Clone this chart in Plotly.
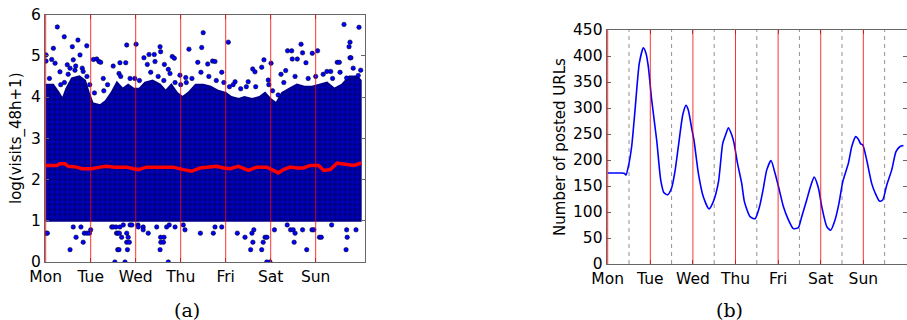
import plotly.graph_objects as go

# ---------------- data ----------------
day_labels = ["Mon", "Tue", "Wed", "Thu", "Fri", "Sat", "Sun"]
day_hours = [0, 24, 48, 72, 96, 120, 144]
half_day_hours = [12, 36, 60, 84, 108, 132, 156]

# (a) upper envelope of the dense cloud of points (lower edge is 1.0)
env_hours = [0, 4, 7, 9, 11, 14, 18, 21, 23, 25, 29, 32, 35, 38, 41, 44, 47, 50, 53, 57,
             61, 64, 67, 70, 73, 76, 80, 84, 88, 92, 96, 99, 103, 106, 110, 114, 117, 120,
             123, 126, 130, 134, 138, 142, 146, 150, 154, 158, 162, 166, 168]
env_top = [4.3, 4.3, 4.1, 3.95, 4.2, 4.45, 4.5, 4.4, 4.1, 3.85, 3.8, 3.9, 4.1, 4.35, 4.2, 4.3,
           4.2, 4.2, 4.35, 4.4, 4.3, 4.15, 4.3, 4.1, 4.0, 4.1, 4.3, 4.3, 4.25, 4.15, 4.1, 4.0,
           3.95, 4.0, 3.95, 4.0, 4.1, 3.95, 3.85, 4.1, 4.2, 4.3, 4.25, 4.25, 4.3, 4.35, 4.2,
           4.3, 4.5, 4.5, 4.4]
env_bottom = 1.0

# (a) isolated points above the cloud
hi_hours = [0.2, 0.2, 3.2, 4.1, 5.0, 6.2, 7.6, 9.9, 11.5, 12, 13, 14.2, 14.7, 15.6, 16, 17.2,
            18.3, 19.5, 20, 21.9, 22, 25.4, 27.2, 28.4, 29.3, 30.7, 36, 39.1, 39.6, 42.7,
            43.2, 48.2, 52.4, 54.2, 55.1, 57.9, 58.3, 61, 61.3, 63.3, 65.4, 66.3, 67.5, 68.6,
            71.6, 74.7, 76.4, 81.1, 82.8, 83.2, 84, 86.4, 89, 90.3, 93.9, 97.4, 101, 108,
            110.4, 111.6, 115.2, 116.4, 118.7, 120.2, 125.5, 128, 129, 131.2, 131.5, 134.2,
            136.2, 137, 138.8, 142.2, 145, 150, 152, 155.5, 156.6, 159.1, 160.5, 161.8,
            162.3, 162.3, 162.8, 166.7, 167.1,
            2, 8, 10, 23.5, 26, 31, 33, 40, 45, 47.5, 50, 56, 60, 63, 69, 72, 75, 78, 87, 91,
            95, 98, 100, 104, 107, 112, 119, 121, 124, 127, 133, 140, 144, 148, 153, 157,
            164, 168]
hi_vals = [5.02, 4.87, 4.91, 5.18, 4.82, 5.70, 4.61, 5.46, 4.78, 4.55, 4.70, 5.22, 4.90, 4.65,
           4.75, 5.38, 5.02, 4.70, 4.62, 5.24, 4.50, 4.91, 4.92, 4.86, 4.84, 4.45, 4.75, 4.57,
           4.83, 4.83, 5.26, 5.28, 4.95, 4.79, 5.03, 5.03, 4.86, 5.22, 5.10, 4.79, 4.67, 4.57,
           4.98, 4.94, 4.53, 4.47, 5.16, 4.84, 4.60, 5.20, 5.56, 4.80, 4.87, 4.86, 4.60, 5.33,
           4.37, 4.37, 4.68, 4.61, 4.72, 4.90, 4.41, 4.82, 4.55, 4.64, 5.12, 5.12, 4.92, 4.92,
           5.28, 5.07, 4.83, 5.06, 5.12, 4.62, 4.62, 4.84, 4.84, 5.76, 4.46, 5.22, 5.33, 4.95,
           4.95, 4.52, 5.69,
           4.45, 4.3, 4.35, 4.3, 4.1, 4.15, 4.3, 4.5, 4.45, 4.45, 4.4, 4.6, 4.5, 4.4, 4.35,
           4.3, 4.35, 4.45, 4.5, 4.4, 4.35, 4.25, 4.3, 4.2, 4.25, 4.25, 4.3, 4.15, 4.05, 4.35,
           4.5, 4.45, 4.5, 4.55, 4.45, 4.6, 4.7, 4.65]

# (a) isolated points below the cloud
lo_hours = [0.2, 0.9, 13, 14.7, 16.2, 18.8, 20, 20.6, 22, 23.3, 24, 35.2, 36, 36.9, 37.5, 37.8,
            38.4, 38.4, 39.1, 39.3, 39.6, 40.5, 41.4, 42.3, 43.2, 43.2, 43.6, 44, 44.6, 45, 46,
            49.2, 49.4, 52, 52, 54.7, 59.2, 61, 61.3, 61.4, 62.8, 63.1, 64.5, 65.4, 65.9, 69,
            73.4, 74.3, 82.5, 89.4, 90.3, 93.9, 102.2, 106.3, 109.3, 110, 110.5, 111, 115.2,
            116, 117, 117.9, 118, 119.6, 122, 128.8, 130.6, 132, 132.5, 133, 137, 139.2, 142,
            143, 146, 147, 152.5, 160.2, 160.5, 160.8, 165.5]
lo_vals = [0.70, 0.70, 0.30, 0.85, 0.60, 0.85, 0.48, 0.70, 0.70, 0.70, 0.78, 0.85, 0.85, 0.0,
           0.85, 0.70, 0.70, 0.30, 0.30, 0.70, 0.85, 0.60, 0.90, 0.0, 0.70, 0.48, 0.30, 0.60,
           0.48, 0.90, 0.90, 0.90, 0.85, 0.85, 0.78, 0.70, 0.85, 0.30, 0.60, 0.48, 0.48, 0.60,
           0.85, 0.0, 0.90, 0.85, 0.90, 0.78, 0.70, 0.70, 0.85, 0.85, 0.70, 0.60, 0.30, 0.70,
           0.48, 0.78, 0.30, 0.48, 0.60, 0.0, 0.60, 0.0, 0.78, 0.90, 0.78, 0.78, 0.48, 0.70,
           0.78, 0.30, 0.78, 0.78, 0.60, 0.60, 0.90, 0.30, 0.78, 0.60, 0.78]

# (a) running mean (red line)
mean_hours = [0, 5.9, 7.6, 10.3, 12.1, 16.5, 19.2, 24.5, 29, 32.5, 37, 43.2, 46.7, 49.4, 53.8,
              61, 68, 73.4, 77.9, 82.3, 85.9, 91.2, 94.8, 98.4, 102.8, 108.2, 112.6, 117.9,
              120.6, 124.1, 126.8, 130.4, 133.9, 137.5, 141.1, 145.6, 148.3, 151.8, 155.4,
              160.8, 164.3, 168.3]
mean_vals = [2.34, 2.34, 2.38, 2.38, 2.32, 2.30, 2.26, 2.26, 2.30, 2.32, 2.30, 2.30, 2.26,
             2.24, 2.30, 2.30, 2.30, 2.24, 2.20, 2.28, 2.30, 2.32, 2.28, 2.26, 2.32, 2.22,
             2.30, 2.30, 2.24, 2.16, 2.24, 2.30, 2.28, 2.28, 2.34, 2.34, 2.22, 2.24, 2.40,
             2.36, 2.34, 2.40]

# (b) number of posted URLs
url_hours = [0, 4, 8, 9.5, 10.3, 11.6, 13.5, 15.4, 17.8, 20.1, 21.6, 22.9, 24.8, 27.6, 29.9,
             31.7, 33.8, 36, 37.9, 39.8, 42.3, 44.1, 45.4, 47.3, 48.6, 51.1, 53.9, 57.1, 59.5,
             62.4, 64.8, 66.7, 68.0, 69.9, 71.2, 73.1, 75.5, 77, 80.2, 83, 85.5, 87.7, 89.6,
             92, 94.3, 96.2, 99, 101.8, 104.6, 107.4, 109.3, 112.1, 114, 116.3, 118.7, 120.6,
             123.4, 125.6, 128.1, 130.3, 132.4, 135.6, 137.5, 139.7, 141.2, 142.5, 143.7,
             145.9, 148.7, 150.6, 153.1, 154.9, 157.2, 160, 162.4, 164.7, 166.6]
url_counts = [175, 175, 175, 174, 171, 187, 226, 296, 386, 416, 405, 379, 315, 238, 161, 137,
              133, 146, 178, 226, 287, 305, 296, 261, 238, 174, 129, 106, 120, 158, 232, 251,
              262, 248, 232, 194, 155, 120, 91, 87, 110, 146, 181, 199, 174, 149, 110, 85, 68,
              70, 91, 123, 146, 167, 146, 110, 72, 65, 85, 117, 158, 194, 226, 245, 240, 231,
              229, 200, 155, 137, 121, 123, 152, 181, 216, 226, 228]

a_yticks = [0, 1, 2, 3, 4, 5, 6]
b_yticks = [0, 50, 100, 150, 200, 250, 300, 350, 400, 450]

# ---------------- figure ----------------
W, H = 907, 320
FONT = "DejaVu Sans"
fig = go.Figure()

# dense cloud as a textured band
fig.add_trace(go.Scatter(
    x=env_hours + env_hours[::-1],
    y=env_top + [env_bottom] * len(env_hours),
    fill="toself", mode="lines",
    line=dict(color="#00008c", width=2),
    fillcolor="#0000c8",
    fillpattern=dict(shape=".", bgcolor="#000070", fgcolor="#0000ff", size=5, solidity=0.7),
    xaxis="x", yaxis="y", hoverinfo="skip", showlegend=False))

marker = dict(size=4.5, color="#0000ff", line=dict(color="#000000", width=0.5))
fig.add_trace(go.Scatter(x=hi_hours, y=hi_vals, mode="markers", marker=marker,
                         xaxis="x", yaxis="y", showlegend=False))
fig.add_trace(go.Scatter(x=lo_hours, y=lo_vals, mode="markers", marker=marker,
                         xaxis="x", yaxis="y", showlegend=False))
fig.add_trace(go.Scatter(x=mean_hours, y=mean_vals, mode="lines",
                         line=dict(color="#ff0000", width=3.5),
                         xaxis="x", yaxis="y", showlegend=False))

fig.add_trace(go.Scatter(x=url_hours, y=url_counts, mode="lines",
                         line=dict(color="#0000ff", width=1.6, shape="spline", smoothing=0.6),
                         xaxis="x2", yaxis="y2", showlegend=False))

# day separators
for h in day_hours:
    fig.add_shape(type="line", xref="x", yref="y domain", x0=h, x1=h, y0=0, y1=1,
                  line=dict(color="rgba(255,0,0,0.8)", width=1), layer="above")
    fig.add_shape(type="line", xref="x2", yref="y2 domain", x0=h, x1=h, y0=0, y1=1,
                  line=dict(color="rgba(255,0,0,0.8)", width=1), layer="above")
for h in half_day_hours:
    fig.add_shape(type="line", xref="x2", yref="y2 domain", x0=h, x1=h, y0=0, y1=1,
                  line=dict(color="#909090", width=1, dash="4px,4px"), layer="below")

axis_common = dict(showgrid=False, zeroline=False, showline=True, linecolor="#666666",
                   linewidth=1, mirror="ticks", ticks="inside", ticklen=4, tickcolor="#666666",
                   tickfont=dict(family=FONT, size=15.5, color="#000000"), automargin=False)

fig.update_layout(
    width=W, height=H, margin=dict(l=0, r=0, t=0, b=0),
    paper_bgcolor="white", plot_bgcolor="white",
    xaxis=dict(domain=[45 / W, 365 / W], range=[-0.37, 170.3], anchor="y",
               tickmode="array", tickvals=day_hours, ticktext=day_labels, **axis_common),
    yaxis=dict(domain=[(H - 262) / H, (H - 14.5) / H], range=[0, 6], anchor="x",
               tickmode="array", tickvals=a_yticks,
               title=dict(text="log(visits_48h+1)", font=dict(family=FONT, size=15, color="#000"),
                          standoff=5), **axis_common),
    xaxis2=dict(domain=[606.7 / W, 1.0], range=[-0.56, 168.6], anchor="y2",
                tickmode="array", tickvals=day_hours, ticktext=day_labels, **axis_common),
    yaxis2=dict(domain=[(H - 264) / H, (H - 30) / H], range=[0, 450], anchor="x2",
                tickmode="array", tickvals=b_yticks,
                title=dict(text="Number of posted URLs", font=dict(family=FONT, size=15, color="#000"),
                           standoff=3), **axis_common),
    annotations=[
        dict(text="(a)", x=187 / W, y=(H - 310) / H, xref="paper", yref="paper",
             xanchor="center", yanchor="middle",
             showarrow=False, font=dict(family="DejaVu Serif", size=19, color="#000")),
        dict(text="(b)", x=729.5 / W, y=(H - 310) / H, xref="paper", yref="paper",
             xanchor="center", yanchor="middle",
             showarrow=False, font=dict(family="DejaVu Serif", size=19, color="#000")),
    ],
)

fig.write_html("out.html")
